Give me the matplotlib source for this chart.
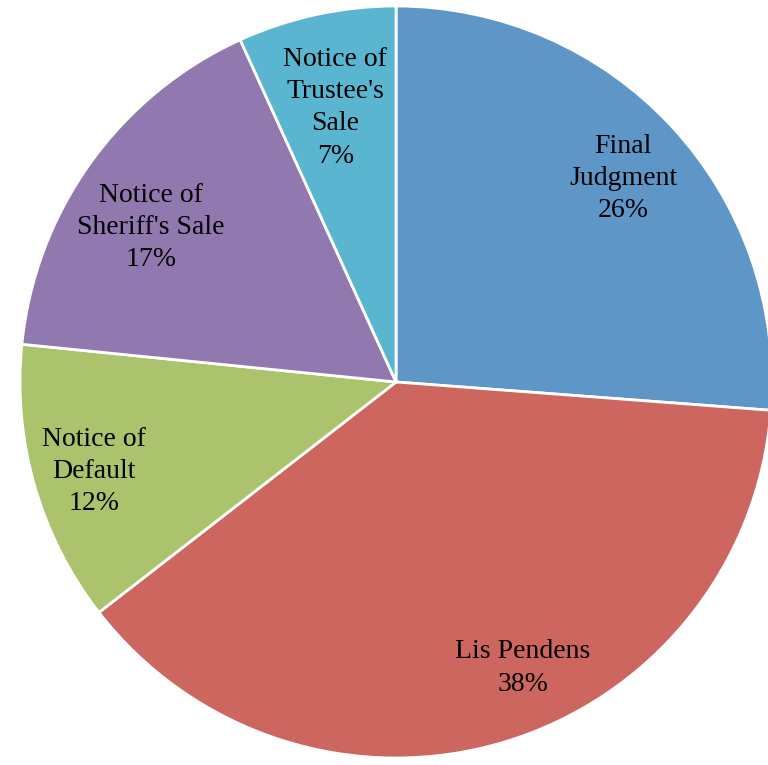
import matplotlib
matplotlib.use("Agg")
import matplotlib.pyplot as plt
import numpy as np

categories = ["Final\nJudgment", "Lis Pendens", "Notice of\nDefault", "Notice of\nSheriff's Sale", "Notice of\nTrustee's\nSale"]
values = [26.2, 38.3, 12.1, 16.6, 6.8]
pct_labels = ["26%", "38%", "12%", "17%", "7%"]
colors = ["#5F96C8", "#CD665F", "#AAC36C", "#9179B0", "#5AB6D0"]

W, H = 768, 765
fig = plt.figure(figsize=(W / 100, H / 100), dpi=100)
cx, cy, r = 396, 382, 376
ax = fig.add_axes([(cx - r) / W, (H - cy - r) / H, 2 * r / W, 2 * r / H])

wedges, _ = ax.pie(values, colors=colors, startangle=90, counterclock=False,
                   radius=1.0, wedgeprops=dict(edgecolor="white", linewidth=2),
                   frame=True)
ax.set_xlim(-1, 1)
ax.set_ylim(-1, 1)
ax.axis("off")

# label placement: polar angle (deg) and fraction of radius
lab_ang = [41.8, -66.1, 196.5, 147.8, 102.5]
lab_dist = [0.811, 0.832, 0.838, 0.771, 0.747]
for lab, p, a, d in zip(categories, pct_labels, lab_ang, lab_dist):
    t = np.deg2rad(a)
    ax.text(d * np.cos(t), d * np.sin(t), f"{lab}\n{p}", ha="center", va="center",
            fontsize=20, family="Liberation Serif", linespacing=1.38, color="black")

fig.savefig("out.png", dpi=100)
